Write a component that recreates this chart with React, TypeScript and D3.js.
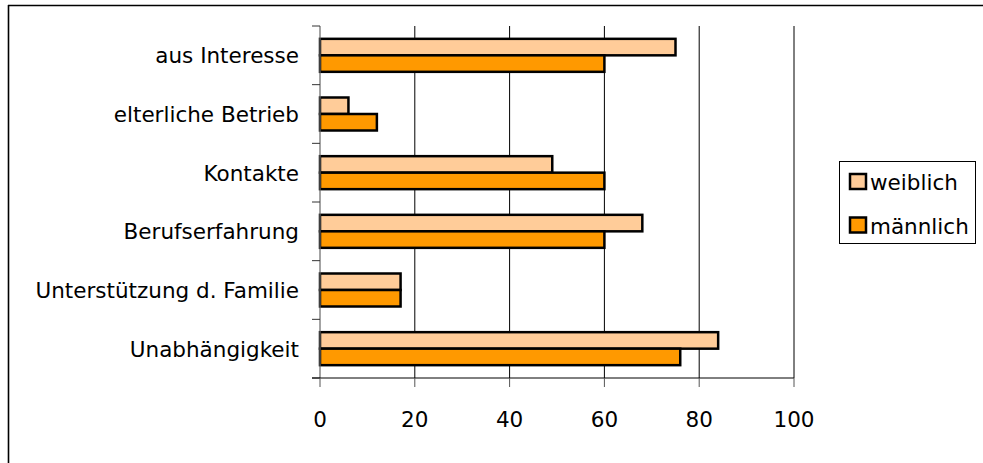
import React from "react";
import * as d3 from "d3";

// Gründe für die Selbständigkeit (Anteile in %)
const categories = [
  "aus Interesse",
  "elterliche Betrieb",
  "Kontakte",
  "Berufserfahrung",
  "Unterstützung d. Familie",
  "Unabhängigkeit",
];
const seriesNames = ["weiblich", "männlich"];
const weiblich = [75, 6, 49, 68, 17, 84];
const maennlich = [60, 12, 60, 60, 17, 76];
const xTicks = [0, 20, 40, 60, 80, 100];

const colors: Record<string, string> = {
  weiblich: "#FFCC99",
  männlich: "#FF9900",
};

const W = 983;
const H = 463;
const plot = { left: 320, right: 794, top: 26, bottom: 378 };
const FONT = "'DejaVu Sans', sans-serif";
const FS = 21.5;

export default function App() {
  const x = d3.scaleLinear().domain([0, 100]).range([plot.left, plot.right]);
  const y = d3
    .scaleBand<string>()
    .domain(categories)
    .range([plot.top, plot.bottom])
    .padding(0);
  const inner = d3
    .scaleBand<string>()
    .domain(seriesNames)
    .range([0, y.bandwidth()])
    .paddingInner(0)
    .paddingOuter(0.778);

  const values: Record<string, number[]> = {
    weiblich: weiblich,
    männlich: maennlich,
  };

  const boundaries = d3.range(categories.length + 1).map(
    (i) => plot.top + i * y.step()
  );

  return (
    <svg
      width={W}
      height={H}
      style={{ position: "absolute", left: 0, top: 0, background: "#fff" }}
      fontFamily={FONT}
    >
      <rect x={0} y={0} width={W} height={H} fill="#fff" />
      {/* chart frame */}
      <line x1={8} x2={W} y1={5.5} y2={5.5} stroke="#000" strokeWidth={1.6} />
      <line x1={8.5} x2={8.5} y1={5} y2={H} stroke="#000" strokeWidth={1.6} />

      {/* vertical gridlines */}
      {xTicks
        .filter((t) => t > 0)
        .map((t) => (
          <line
            key={`g${t}`}
            x1={x(t)}
            x2={x(t)}
            y1={plot.top}
            y2={plot.bottom}
            stroke="#000"
            strokeWidth={1}
          />
        ))}

      {/* bars */}
      {categories.map((c, i) =>
        seriesNames.map((s) => (
          <rect
            key={`${c}-${s}`}
            x={x(0)}
            y={(y(c) as number) + (inner(s) as number)}
            width={x(values[s][i]) - x(0)}
            height={inner.bandwidth()}
            fill={colors[s]}
            stroke="#000"
            strokeWidth={2.5}
          />
        ))
      )}

      {/* category axis */}
      <line
        x1={plot.left}
        x2={plot.left}
        y1={plot.top}
        y2={plot.bottom}
        stroke="#666"
        strokeWidth={1.2}
      />
      {boundaries.map((b, i) => (
        <line
          key={`yt${i}`}
          x1={plot.left - 8}
          x2={plot.left}
          y1={b}
          y2={b}
          stroke="#333"
          strokeWidth={1}
        />
      ))}
      {categories.map((c) => (
        <text
          key={`yl${c}`}
          x={plot.left - 21}
          y={(y(c) as number) + y.bandwidth() / 2 + 8}
          textAnchor="end"
          fontSize={FS}
          fill="#000"
        >
          {c}
        </text>
      ))}

      {/* value axis */}
      <line
        x1={plot.left - 8}
        x2={plot.right}
        y1={plot.bottom}
        y2={plot.bottom}
        stroke="#000"
        strokeWidth={1}
      />
      {xTicks.map((t) => (
        <g key={`xt${t}`}>
          <line
            x1={x(t)}
            x2={x(t)}
            y1={plot.bottom}
            y2={plot.bottom + 9}
            stroke="#555"
            strokeWidth={1}
          />
          <text
            x={x(t)}
            y={plot.bottom + 49}
            textAnchor="middle"
            fontSize={FS}
            fill="#000"
          >
            {t}
          </text>
        </g>
      ))}

      {/* legend */}
      <rect
        x={839.5}
        y={161.5}
        width={136}
        height={82}
        fill="#fff"
        stroke="#000"
        strokeWidth={1}
      />
      {seriesNames.map((s, i) => (
        <g key={`lg${s}`} transform={`translate(0, ${i * 43.5})`}>
          <rect
            x={850}
            y={174}
            width={16}
            height={15}
            fill={colors[s]}
            stroke="#000"
            strokeWidth={2.5}
          />
          <text x={870} y={190} fontSize={FS} fill="#000">
            {s}
          </text>
        </g>
      ))}
    </svg>
  );
}
